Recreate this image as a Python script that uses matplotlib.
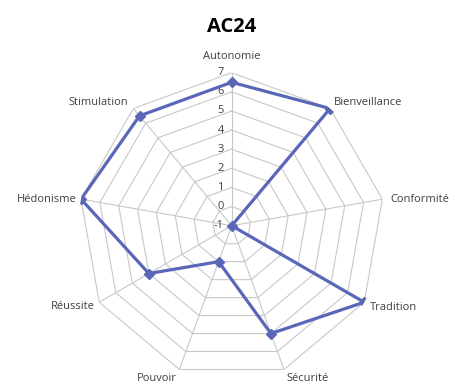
import numpy as np
import matplotlib
matplotlib.use("Agg")
import matplotlib.pyplot as plt

title = "AC24"
categories = ["Autonomie", "Bienveillance", "Conformité", "Tradition", "Sécurité",
              "Pouvoir", "Réussite", "Hédonisme", "Stimulation"]
values = [6.5, 7, -1, 7, 5, 1, 4, 7, 6.5]
ring_levels = [-1, 0, 1, 2, 3, 4, 5, 6, 7]
r_min, r_max = -1, 7

line_color = "#5a67b8"
grid_color = "#c8c8c8"
text_color = "#404040"
font = ["Open Sans", "DejaVu Sans"]

fig = plt.figure(figsize=(4.56, 3.87), dpi=100)
fig.patch.set_facecolor("white")
ax = fig.add_axes([0.1726, 0.0214, 0.671, 0.7907], projection="polar")
ax.set_theta_zero_location("N")
ax.set_theta_direction(-1)
ax.set_ylim(r_min, r_max)
ax.grid(False)
ax.spines["polar"].set_visible(False)
ax.set_xticks([])
ax.set_yticks([])
ax.patch.set_alpha(0)

n = len(categories)
theta = np.linspace(0, 2 * np.pi, n, endpoint=False)
theta_closed = np.append(theta, theta[0])

# polygonal rings
for lvl in ring_levels[1:]:
    ax.plot(theta_closed, [lvl] * (n + 1), color=grid_color, lw=0.8, zorder=1)
# spokes
for t in theta:
    ax.plot([t, t], [r_min, r_max], color=grid_color, lw=0.8, zorder=1)

# value labels along the first spoke
for lvl in ring_levels:
    ax.annotate(str(lvl), xy=(0, lvl), xytext=(-8, 0), textcoords="offset pixels",
                ha="right", va="center", fontsize=8, color=text_color, family=font)

# series
vals_closed = values + values[:1]
ax.plot(theta_closed, vals_closed, color=line_color, lw=2.3, zorder=3)
ax.plot(theta, values, ls="none", marker="D", ms=5, color=line_color, zorder=4)

# category labels: offset (pixels) and alignment per spoke
label_style = [
    ((0, 16), "center", "center"),
    ((4, 6), "left", "center"),
    ((8, 0), "left", "center"),
    ((6, -5), "left", "center"),
    ((2, -9), "left", "center"),
    ((-3, -9), "right", "center"),
    ((-4, -4), "right", "center"),
    ((-4, 0), "right", "center"),
    ((-5, 6), "right", "center"),
]
for t, name, (off, ha, va) in zip(theta, categories, label_style):
    ax.annotate(name, xy=(t, r_max), xytext=off, textcoords="offset pixels",
                ha=ha, va=va, fontsize=8, color=text_color, family=font,
                annotation_clip=False)

fig.text(0.508, 0.930, title, ha="center", va="center", fontsize=14.5,
         fontweight="bold", color="black", family=font)

fig.savefig("out.png", dpi=100, facecolor="white")
